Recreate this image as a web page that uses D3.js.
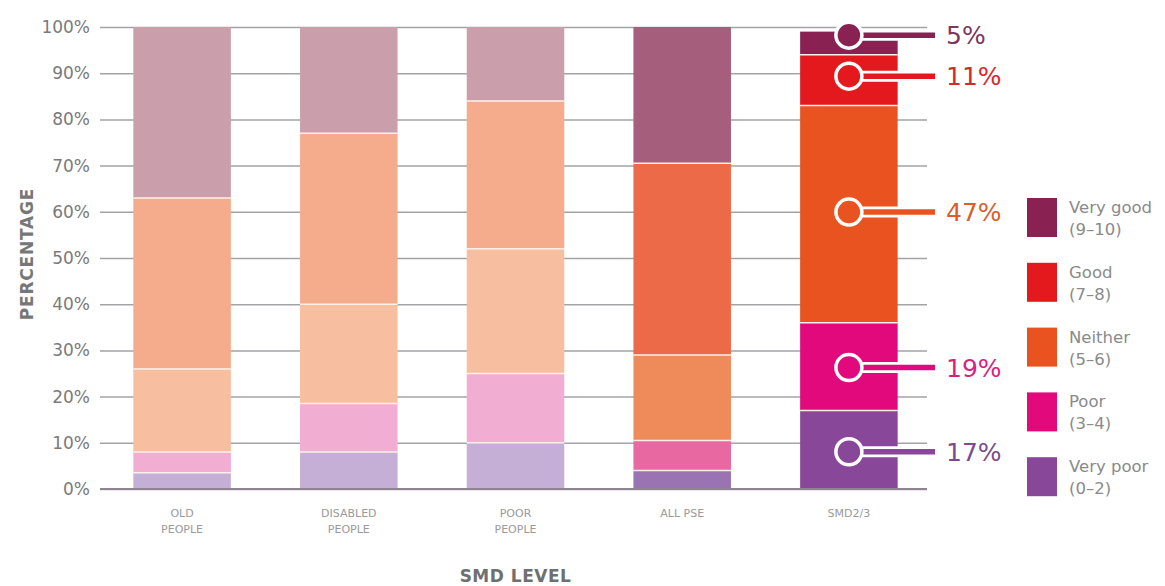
<!DOCTYPE html>
<html>
<head>
<meta charset="utf-8">
<script src="https://cdn.jsdelivr.net/npm/d3@7"></script>
<style>
  html, body { margin: 0; padding: 0; background: #fff; }
  svg { display: block; }
  text { font-family: "DejaVu Sans", sans-serif; }
</style>
</head>
<body>
<svg id="chart" width="1165" height="586"></svg>
<script>
// Satisfaction rating groups, ordered bottom to top in each stack
const ratings = ["Very poor", "Poor", "Neither", "Good", "Very good"];
const ratingRanges = ["(0–2)", "(3–4)", "(5–6)", "(7–8)", "(9–10)"];

// SMD levels along the x axis
const groups = ["OLD PEOPLE", "DISABLED PEOPLE", "POOR PEOPLE", "ALL PSE", "SMD2/3"];

// Share of respondents (%) per rating, one entry per group
const veryPoor = [3.5, 8, 10, 4, 17];
const poor     = [4.5, 10.5, 15, 6.5, 19];
const neither  = [18, 21.5, 27, 18.5, 47];
const good     = [37, 37, 32, 41.5, 11];
const veryGood = [37, 23, 16, 29.5, 5];

const yTicks = [0, 10, 20, 30, 40, 50, 60, 70, 80, 90, 100];

// Colour palettes: muted for the sub-groups, medium for all PSE, full for SMD2/3
const paletteMuted = ["#c5afd7", "#f2add3", "#f8bea0", "#f4ac8d", "#cb9eab"];
const paletteMid   = ["#9a74b2", "#e868a2", "#ef8a5a", "#ec6a48", "#a65e7d"];
const paletteFull  = ["#894799", "#e2097d", "#e8531f", "#e3191d", "#8a2153"];
const labelInk     = ["#7d4a8d", "#d72380", "#d5612f", "#d8282b", "#7c3761"];

const series = [veryPoor, poor, neither, good, veryGood];
const table = groups.map((g, i) => {
  const row = { group: g };
  ratings.forEach((r, k) => { row[r] = series[k][i]; });
  return row;
});

const svg = d3.select("#chart");

const x = d3.scaleBand()
  .domain(groups)
  .range([100, 931])
  .paddingInner(0.415)
  .paddingOuter(0.2);

const y = d3.scaleLinear().domain([0, 100]).range([489, 27]);

const gridRight = 927;

// Y axis with full-width gridlines
const yAxis = svg.append("g")
  .attr("transform", "translate(100,0)")
  .call(d3.axisLeft(y)
    .tickValues(yTicks)
    .tickFormat(d => d + "%")
    .tickSize(-(gridRight - 100))
    .tickPadding(10));
yAxis.select(".domain").remove();
yAxis.selectAll(".tick line")
  .attr("stroke", "#a3a3a7")
  .attr("stroke-width", 1.5);
yAxis.selectAll(".tick text")
  .attr("fill", "#7a7a7a")
  .style("font-size", "17px")
  .style("font-family", "'DejaVu Sans', sans-serif");

// Stacked bars
const stack = d3.stack().keys(ratings);
const layers = stack(table);

function colourFor(groupIndex, ratingIndex) {
  if (groupIndex === 4) return paletteFull[ratingIndex];
  if (groupIndex === 3) return paletteMid[ratingIndex];
  return paletteMuted[ratingIndex];
}

const layerG = svg.append("g").selectAll("g")
  .data(layers)
  .join("g");

layerG.selectAll("rect")
  .data((layer, k) => layer.map((d, i) => ({ d, k, i })))
  .join("rect")
  .attr("x", o => x(o.d.data.group))
  .attr("width", x.bandwidth())
  .attr("y", o => y(o.d[1]))
  .attr("height", o => y(o.d[0]) - y(o.d[1]))
  .attr("fill", o => colourFor(o.i, o.k));

// Thin light seams between stacked segments
layerG.filter((layer, k) => k > 0)
  .selectAll("line")
  .data(layer => layer)
  .join("line")
  .attr("x1", d => x(d.data.group))
  .attr("x2", d => x(d.data.group) + x.bandwidth())
  .attr("y1", d => y(d[0]))
  .attr("y2", d => y(d[0]))
  .attr("stroke", "#fff0e8")
  .attr("stroke-width", 1.5);

// Baseline
svg.append("line")
  .attr("x1", 100).attr("x2", gridRight)
  .attr("y1", y(0)).attr("y2", y(0))
  .attr("stroke", "#8e8490")
  .attr("stroke-width", 2);

// Category labels under the bars
const catLines = {
  "OLD PEOPLE": ["OLD", "PEOPLE"],
  "DISABLED PEOPLE": ["DISABLED", "PEOPLE"],
  "POOR PEOPLE": ["POOR", "PEOPLE"],
  "ALL PSE": ["ALL PSE"],
  "SMD2/3": ["SMD2/3"]
};
const catG = svg.append("g");
groups.forEach(g => {
  const t = catG.append("text")
    .attr("x", x(g) + x.bandwidth() / 2)
    .attr("y", 517)
    .attr("text-anchor", "middle")
    .attr("fill", "#9a9a9a")
    .style("font-size", "11px");
  catLines[g].forEach((ln, j) => {
    t.append("tspan")
      .attr("x", x(g) + x.bandwidth() / 2)
      .attr("dy", j === 0 ? 0 : 16)
      .text(ln);
  });
});

// Axis titles
svg.append("text")
  .attr("x", x("POOR PEOPLE") + x.bandwidth() / 2)
  .attr("y", 582)
  .attr("text-anchor", "middle")
  .attr("fill", "#6f6f6f")
  .style("font-size", "17px")
  .style("font-weight", "bold")
  .style("letter-spacing", "0.5px")
  .text("SMD LEVEL");

svg.append("text")
  .attr("transform", "translate(33,254) rotate(-90)")
  .attr("text-anchor", "middle")
  .attr("fill", "#777")
  .style("font-size", "17px")
  .style("font-weight", "bold")
  .style("letter-spacing", "0.8px")
  .text("PERCENTAGE");

// Value callouts on the SMD2/3 bar
const focus = groups.length - 1;
const cx = x(groups[focus]) + x.bandwidth() / 2;
const lineEnd = 935;
// vertical nudges (px) keep the two thin top callouts apart
const nudge = [2, 1, -2, -4, -8];
const callouts = layers.map((layer, k) => ({
  k,
  value: series[k][focus],
  cy: y((layer[focus][0] + layer[focus][1]) / 2) + nudge[k]
}));

const cg = svg.append("g").selectAll("g").data(callouts).join("g");
cg.append("line")
  .attr("x1", cx).attr("x2", lineEnd)
  .attr("y1", d => d.cy).attr("y2", d => d.cy)
  .attr("stroke", "#fff").attr("stroke-width", 11);
cg.append("line")
  .attr("x1", cx).attr("x2", lineEnd)
  .attr("y1", d => d.cy).attr("y2", d => d.cy)
  .attr("stroke", d => paletteFull[d.k]).attr("stroke-width", 5.5);
cg.append("circle")
  .attr("cx", cx).attr("cy", d => d.cy)
  .attr("r", 13)
  .attr("fill", d => paletteFull[d.k])
  .attr("stroke", "#fff")
  .attr("stroke-width", 3.5);
cg.append("text")
  .attr("x", 946)
  .attr("y", d => d.cy + 9)
  .attr("fill", d => labelInk[d.k])
  .style("font-size", "25px")
  .text(d => d.value + "%");

// Legend, top entry first
const legendOrder = ratings.map((r, k) => k).reverse();
const lg = svg.append("g").selectAll("g")
  .data(legendOrder)
  .join("g")
  .attr("transform", (k, i) => `translate(1027,${198 + i * 64.8})`);
lg.append("rect")
  .attr("width", 30).attr("height", 39)
  .attr("fill", k => paletteFull[k]);
lg.append("text")
  .attr("x", 42).attr("y", 15)
  .attr("fill", "#8a8a8a")
  .style("font-size", "16.5px")
  .text(k => ratings[k]);
lg.append("text")
  .attr("x", 42).attr("y", 37)
  .attr("fill", "#8a8a8a")
  .style("font-size", "16.5px")
  .text(k => ratingRanges[k]);
</script>
</body>
</html>
